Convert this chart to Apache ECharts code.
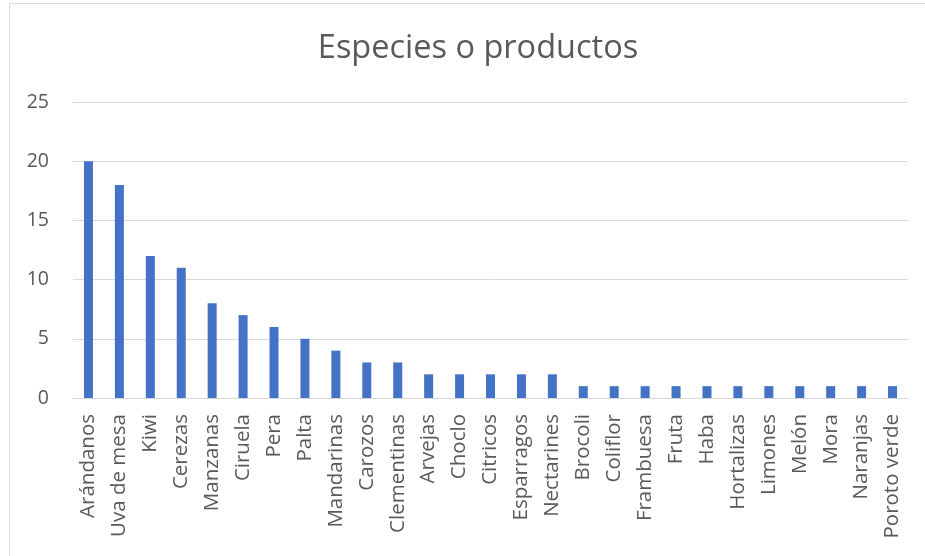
<!DOCTYPE html>
<html>
<head>
<meta charset="utf-8">
<script src="https://cdn.jsdelivr.net/npm/echarts@6/dist/echarts.min.js"></script>
<style>
  html, body { margin: 0; padding: 0; background: #fff; }
  #chart { width: 925px; height: 556px; }
</style>
</head>
<body>
<div id="chart"></div>
<script>
const categories = ['Arándanos', 'Uva de mesa', 'Kiwi', 'Cerezas', 'Manzanas', 'Ciruela', 'Pera', 'Palta',
  'Mandarinas', 'Carozos', 'Clementinas', 'Arvejas', 'Choclo', 'Citricos', 'Esparragos', 'Nectarines',
  'Brocoli', 'Coliflor', 'Frambuesa', 'Fruta', 'Haba', 'Hortalizas', 'Limones', 'Melón', 'Mora',
  'Naranjas', 'Poroto verde'];
const counts = [20, 18, 12, 11, 8, 7, 6, 5, 4, 3, 3, 2, 2, 2, 2, 2, 1, 1, 1, 1, 1, 1, 1, 1, 1, 1, 1];
const yTicks = { min: 0, max: 25, interval: 5 };

const chart = echarts.init(document.getElementById('chart'), null, { renderer: 'canvas' });
const font = '"Open Sans", "Liberation Sans", sans-serif';

chart.setOption({
  animation: false,
  backgroundColor: '#ffffff',
  graphic: [{
    type: 'rect',
    shape: { x: 9.5, y: 3.5, width: 940, height: 580 },
    style: { fill: 'none', stroke: '#d9d9d9', lineWidth: 1 },
    silent: true
  }],
  title: {
    text: 'Especies o productos',
    left: 473,
    textAlign: 'center',
    top: 27,
    textStyle: { fontFamily: font, fontWeight: 400, fontSize: 32.5, color: '#595959' }
  },
  grid: { left: 73, right: 17, top: 102, bottom: 158, containLabel: false },
  xAxis: {
    type: 'category',
    data: categories,
    axisLine: { lineStyle: { color: '#d9d9d9', width: 1 } },
    axisTick: { show: false },
    axisLabel: {
      rotate: 90,
      interval: 0,
      margin: 16,
      fontFamily: font,
      fontSize: 20.5,
      color: '#595959'
    }
  },
  yAxis: {
    type: 'value',
    min: yTicks.min,
    max: yTicks.max,
    interval: yTicks.interval,
    axisLine: { show: false },
    axisTick: { show: false },
    splitLine: { lineStyle: { color: '#d9d9d9', width: 1 } },
    axisLabel: { margin: 24, fontFamily: font, fontSize: 19.5, color: '#595959' }
  },
  series: [{
    type: 'bar',
    data: counts,
    barWidth: 9,
    itemStyle: { color: '#4472c4' }
  }]
});
</script>
</body>
</html>
